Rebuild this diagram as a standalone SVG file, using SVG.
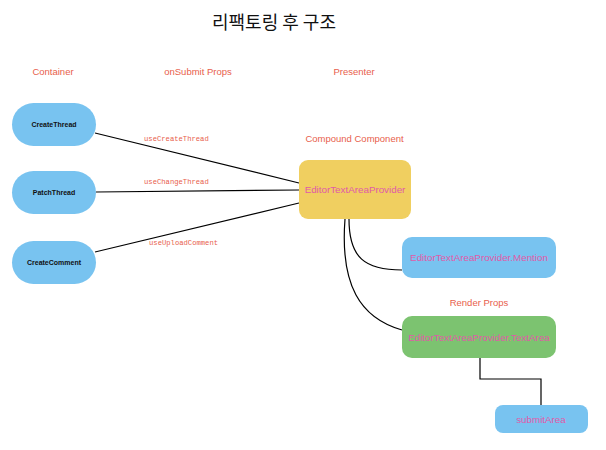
<svg xmlns="http://www.w3.org/2000/svg" width="606" height="450" viewBox="0 0 606 450">
<style>
.sec{font-family:"Liberation Sans",Arial,sans-serif;font-size:9.5px;fill:#e8604c;text-anchor:middle}
.el{font-family:"Liberation Mono","DejaVu Sans Mono",monospace;font-size:7.2px;fill:#e8604c}
.bl{fill:#78c3f0}
.nt{font-family:"Liberation Sans",Arial,sans-serif;font-size:7px;font-weight:bold;fill:#111;text-anchor:middle}
.pt{font-family:"Liberation Sans",Arial,sans-serif;font-size:9.8px;fill:#e05aa8;text-anchor:middle}
.ln{stroke:#000;stroke-width:1.2;fill:none}
</style>
<rect width="606" height="450" fill="#fff"/>
<text x="274" y="29" font-family="'Noto Sans CJK KR','Noto Sans CJK SC',sans-serif" font-size="18" fill="#111" text-anchor="middle">리팩토링 후 구조</text>
<text class="sec" x="53" y="75">Container</text>
<text class="sec" x="198" y="75">onSubmit Props</text>
<text class="sec" x="354" y="75">Presenter</text>
<text class="sec" x="354.5" y="142">Compound Component</text>
<text class="sec" x="479" y="306">Render Props</text>
<g id="connectors">
<path class="ln" d="M95,133 L299,183"/>
<path class="ln" d="M96,192 L299,190"/>
<path class="ln" d="M95,252 L299,203"/>
<path class="ln" d="M349,219 C349,258 365,270 402,270"/>
<path class="ln" d="M345,219 C340,285 360,318 402,330"/>
<path class="ln" d="M480,358 V379 H541 V405"/>
<text class="el" x="144" y="141">useCreateThread</text>
<text class="el" x="144" y="184">useChangeThread</text>
<text class="el" x="149" y="245">useUploadComment</text>
</g>
<g id="createThread"><rect class="bl" x="12" y="103" width="84" height="43" rx="21.5"/><text class="nt" x="54" y="127">CreateThread</text></g>
<g id="patchThread"><rect class="bl" x="12" y="171" width="84" height="43" rx="21.5"/><text class="nt" x="54" y="195">PatchThread</text></g>
<g id="createComment"><rect class="bl" x="12" y="241" width="84" height="43" rx="21.5"/><text class="nt" x="54" y="265">CreateComment</text></g>
<g id="provider"><rect x="299" y="160" width="112" height="59" rx="9" fill="#f0cf60"/><text class="pt" x="355" y="193">EditorTextAreaProvider</text></g>
<g id="mention"><rect class="bl" x="402" y="237" width="154" height="41" rx="10"/><text class="pt" x="479" y="261">EditorTextAreaProvider.Mention</text></g>
<g id="textArea"><rect x="402" y="316" width="154" height="42" rx="10" fill="#7cc370"/><text class="pt" x="479" y="341">EditorTextAreaProvider.TextArea</text></g>
<g id="submitArea"><rect class="bl" x="495" y="405" width="93" height="28" rx="8"/><text class="pt" x="541" y="423">submitArea</text></g>
</svg>
